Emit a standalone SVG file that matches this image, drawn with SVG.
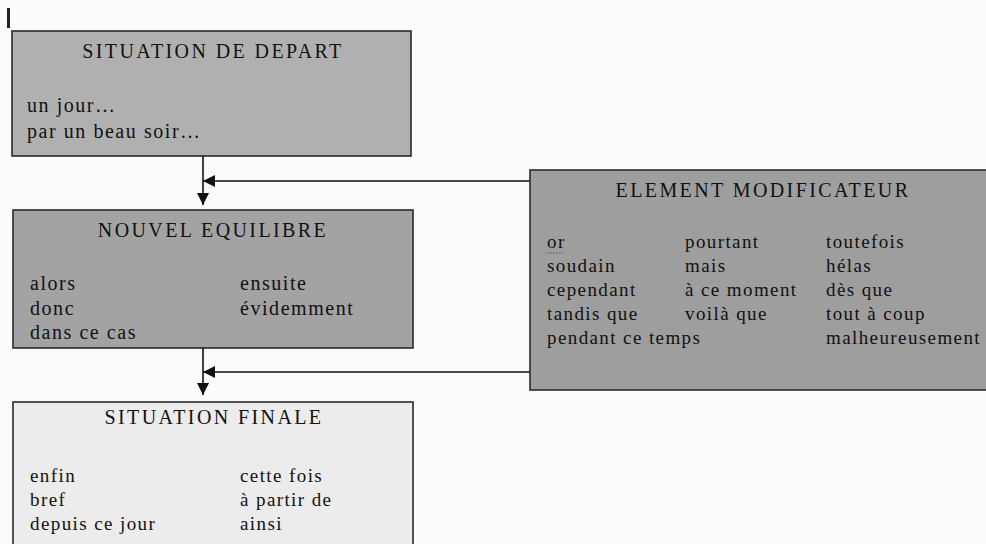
<svg xmlns="http://www.w3.org/2000/svg" width="986" height="544" viewBox="0 0 986 544">
<style>
.box{stroke:#2a2a2a;stroke-width:1.6}
.t{font-family:"Liberation Serif","Times New Roman",serif;font-size:19px;fill:#111;letter-spacing:1.4px}
.b{font-size:20px;letter-spacing:1.55px}
.h{font-family:"Liberation Serif","Times New Roman",serif;font-size:20px;fill:#111;letter-spacing:2.4px;text-anchor:middle}
.c{stroke:#111;stroke-width:1.6;fill:none}
</style>
<defs>
<marker id="ah" viewBox="0 0 12 12" refX="12" refY="6" markerWidth="12" markerHeight="12" markerUnits="userSpaceOnUse" orient="auto">
<path d="M0,0 L12,6 L0,12 Z" fill="#111"/>
</marker>
</defs>
<rect width="986" height="544" fill="#fbfbfb"/>
<rect x="7" y="8" width="3" height="20" fill="#222"/>
<g id="connectors">
<path class="c" d="M203,156 V205" marker-end="url(#ah)"/>
<path class="c" d="M530,181 H203" marker-end="url(#ah)"/>
<path class="c" d="M203,348 V395" marker-end="url(#ah)"/>
<path class="c" d="M530,372 H203" marker-end="url(#ah)"/>
</g>
<g id="situation-depart">
<rect class="box" x="12" y="31" width="399" height="125" fill="#b0b0b0"/>
<text class="h" x="213" y="58">SITUATION DE DEPART</text>
<text class="t b" x="27" y="112">un jour…</text>
<text class="t b" x="27" y="138">par un beau soir…</text>
</g>
<g id="nouvel-equilibre">
<rect class="box" x="13" y="210" width="400" height="138" fill="#a3a3a3"/>
<text class="h" x="213" y="237">NOUVEL EQUILIBRE</text>
<text class="t b" x="30" y="290">alors</text>
<text class="t b" x="30" y="315">donc</text>
<text class="t b" x="30" y="339">dans ce cas</text>
<text class="t b" x="240" y="290">ensuite</text>
<text class="t b" x="240" y="315">évidemment</text>
</g>
<g id="situation-finale">
<rect class="box" x="13" y="402" width="400" height="150" fill="#ececec"/>
<text class="h" x="214" y="424">SITUATION FINALE</text>
<text class="t" x="30" y="482">enfin</text>
<text class="t" x="30" y="506">bref</text>
<text class="t" x="30" y="530">depuis ce jour</text>
<text class="t" x="240" y="482">cette fois</text>
<text class="t" x="240" y="506">à partir de</text>
<text class="t" x="240" y="530">ainsi</text>
</g>
<g id="element-modificateur">
<rect class="box" x="530" y="170" width="470" height="220" fill="#9e9e9e"/>
<text class="h" x="763" y="197">ELEMENT MODIFICATEUR</text>
<text class="t" x="547" y="248">or</text>
<path d="M547,253 h16" stroke="#555" stroke-width="1" stroke-dasharray="1.5,1.5"/>
<text class="t" x="547" y="272">soudain</text>
<text class="t" x="547" y="296">cependant</text>
<text class="t" x="547" y="320">tandis que</text>
<text class="t" x="547" y="344">pendant ce temps</text>
<text class="t" x="685" y="248">pourtant</text>
<text class="t" x="685" y="272">mais</text>
<text class="t" x="685" y="296">à ce moment</text>
<text class="t" x="685" y="320">voilà que</text>
<text class="t" x="826" y="248">toutefois</text>
<text class="t" x="826" y="272">hélas</text>
<text class="t" x="826" y="296">dès que</text>
<text class="t" x="826" y="320">tout à coup</text>
<text class="t" x="826" y="344">malheureusement</text>
</g>
</svg>
